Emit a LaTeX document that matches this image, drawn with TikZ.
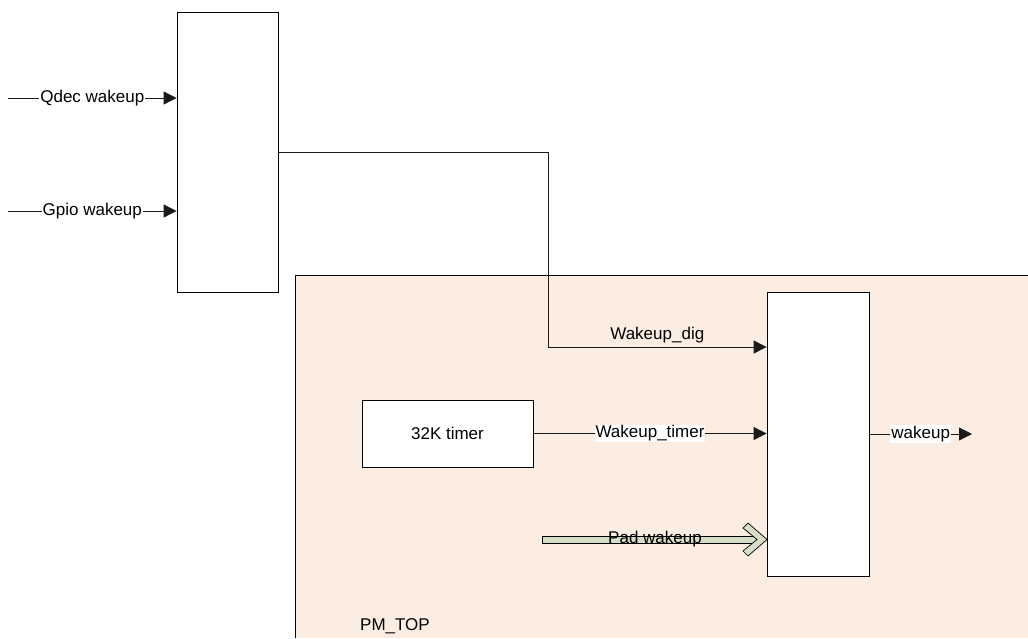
\documentclass[tikz,border=0pt]{standalone}
\usepackage{fontspec}
\setmainfont{Liberation Sans}
\usetikzlibrary{calc,positioning,arrows.meta}
\definecolor{PmFill}{HTML}{FCEDE2}
\definecolor{PadFill}{HTML}{D7DEC8}
\definecolor{WireGray}{HTML}{1A1A1A}
\tikzset{
  blockbox/.style={draw, fill=white, line width=0.8pt, inner sep=0pt},
  wire/.style={draw=WireGray, line width=0.8pt},
  arrowwire/.style={wire, -{Triangle[length=13pt,width=13pt]}},
  wirelabel/.style={font=\fontsize{17}{20}\selectfont, inner sep=1pt},
}

\begin{document}
\begin{tikzpicture}[x=1pt,y=-1pt]
  \useasboundingbox (0,0) rectangle (1028,638);
  \fill[PmFill] (295,275) rectangle (1028,638);
  \draw[line width=0.8pt] (295,638) |- (1028,275);
  \node[wirelabel] (pmtop) at (395,626) {PM\_TOP};

  \node[
    blockbox,
    minimum width=101pt,
    minimum height=280pt
  ] (wkmux) at (227.5,152) {};
  \node[
    blockbox,
    minimum width=102pt,
    minimum height=284pt
  ] (pmmux) at (818,434) {};
  \node[
    blockbox,
    minimum width=171pt,
    minimum height=67pt,
    font=\fontsize{17}{20}\selectfont
  ] (timer) at (447.5,433.5) {32K timer};

  \coordinate (qdecin) at (8,98);
  \coordinate (gpioin) at (8,211);
  \coordinate (digbend) at (548,347);
  \coordinate (wkout) at (972,434);

  \draw[arrowwire] (qdecin) -- node[wirelabel, fill=white] {Qdec wakeup} (wkmux.west |- qdecin);
  \draw[arrowwire] (gpioin) -- node[wirelabel, fill=white] {Gpio wakeup} (wkmux.west |- gpioin);
  \draw[wire] (wkmux.east) -| (digbend);
  \draw[arrowwire] (digbend) -- node[wirelabel, above=3pt] {Wakeup\_dig} (pmmux.west |- digbend);
  \draw[arrowwire] (timer.east) -- node[wirelabel, fill=white] {Wakeup\_timer} (pmmux.west |- timer.east);
  \draw[arrowwire] (pmmux.east |- wkout) -- node[wirelabel, fill=white] {wakeup} (wkout);

  \draw[fill=PadFill, line width=0.7pt] (542,536) rectangle (758,543);
  \draw[fill=PadFill, line width=0.7pt]
    (748,523) -- (767,539.5) -- (748,556) -- (743,551) -- (757,539.5) -- (743,528) -- cycle;
  \node[wirelabel] (padwk) at (655,539.5) {Pad wakeup};
\end{tikzpicture}
\end{document}
